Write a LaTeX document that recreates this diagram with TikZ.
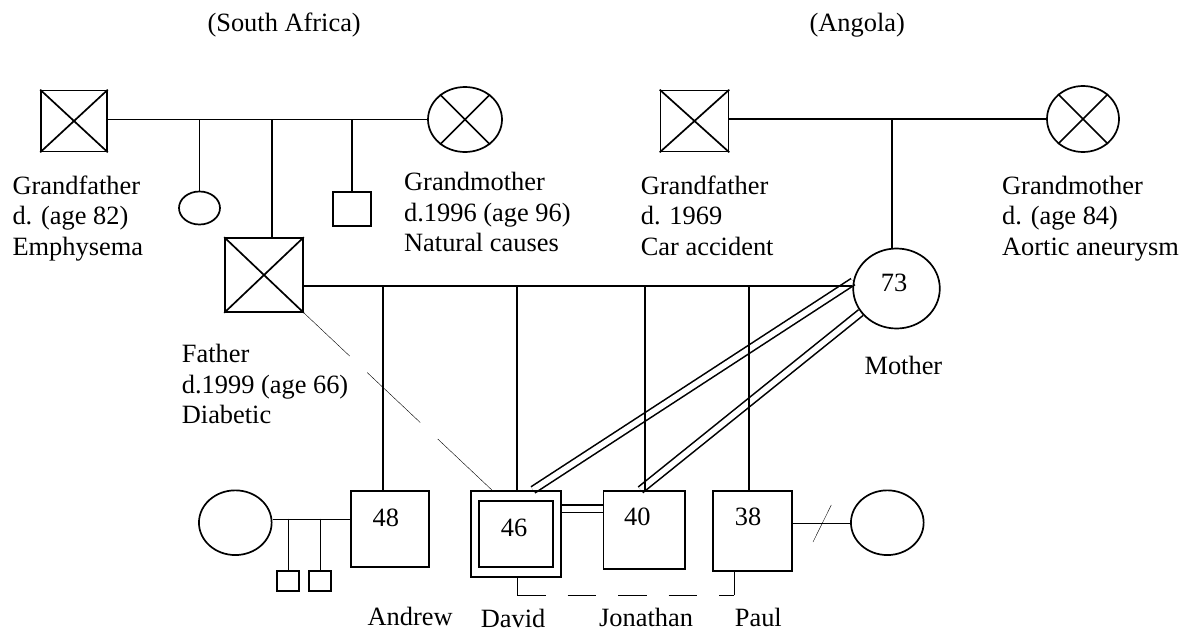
\documentclass[tikz,border=0pt]{standalone}
\usepackage{fontspec}
\setmainfont{Liberation Serif}
\usetikzlibrary{shapes.geometric}
\pgfdeclarelayer{bg}
\pgfsetlayers{bg,main}
\newcommand\plines[1]{\begin{tabular}[t]{@{}l@{}}#1\end{tabular}}
\begin{document}
\begin{tikzpicture}[x=1pt,y=-1pt,line width=1.7pt,
  txt/.style={font=\fontsize{26.4}{30.5}\selectfont,inner sep=0pt,anchor=base west},
  sq/.style={draw,rectangle,inner sep=0pt,line width=1.7pt},
  el/.style={draw,ellipse,inner sep=0pt,line width=1.7pt},
  dbl/.style={line width=1.6pt,double,double distance=5.6pt}]
\useasboundingbox (0,0) rectangle (1187,632);

% titles
\node[txt] (tsa) at (206.7,31) {(South Africa)};
\node[txt] (tan) at (808.7,31) {(Angola)};

% paternal grandparents
\node[sq,minimum width=66pt,minimum height=61pt] (gf1) at (74,121) {};
\node[el,minimum width=74pt,minimum height=65pt] (gm1) at (465,119.5) {};
\draw (gf1.north west) -- (gf1.south east) (gf1.north east) -- (gf1.south west);
\draw (gm1.45) -- (gm1.225) (gm1.135) -- (gm1.315);
\draw (gf1.east |- gm1.west) -- (gm1.west);

\node[el,minimum width=41pt,minimum height=33pt] (dau) at (199.5,208) {};
\node[sq,minimum width=38pt,minimum height=34pt] (son) at (352,209) {};
\node[sq,minimum width=78pt,minimum height=74pt] (father) at (264,275) {};
\draw (father.north west) -- (father.south east) (father.north east) -- (father.south west);
\coordinate (fd) at ([xshift=8pt]father.north);
\draw (dau.north |- gm1.west) -- (dau.north);
\draw (son.north |- gm1.west) -- (son.north);
\draw (fd |- gm1.west) -- (fd);

\node[txt] (lgf1) at (11.7,194.3) {\plines{Grandfather\\d. (age 82)\\Emphysema}};
\node[txt] (lgm1) at (403.3,190.5) {\plines{Grandmother\\d.1996 (age 96)\\Natural causes}};

% maternal grandparents
\node[sq,minimum width=68pt,minimum height=61pt] (gf2) at (694.5,121) {};
\node[el,minimum width=72pt,minimum height=66pt] (gm2) at (1083,119) {};
\draw (gf2.north west) -- (gf2.south east) (gf2.north east) -- (gf2.south west);
\draw (gm2.45) -- (gm2.225) (gm2.135) -- (gm2.315);
\draw (gf2.east |- gm2.west) -- (gm2.west);

\node[txt] (lgf2) at (640,194.3) {\plines{Grandfather\\d. 1969\\Car accident}};
\node[txt] (lgm2) at (1001.3,194.3) {\plines{Grandmother\\d. (age 84)\\Aortic aneurysm}};

% mother
\node[el,minimum width=86.6pt,minimum height=80pt] (mother) at (896.5,288.5) {};
\node[txt] (n73) at (880,291.7) {73};
\coordinate (md) at ([xshift=-4.5pt]mother.north);
\draw (md |- gm2.west) -- (md);
\node[txt] (lmo) at (863.7,374.3) {Mother};
\node[txt] (lfa) at (181,362.7) {\plines{Father\\d.1999 (age 66)\\Diabetic}};

% children
\node[sq,minimum width=78pt,minimum height=76pt] (andrew) at (390,528.8) {};
\node[sq,minimum width=90pt,minimum height=86pt] (david) at (516,533.7) {};
\node[sq,minimum width=74pt,minimum height=66pt] (davidin) at (516.2,533.8) {};
\node[sq,minimum width=81.7pt,minimum height=78pt] (jonathan) at (644.2,529.7) {};
\node[sq,minimum width=78.4pt,minimum height=80.3pt] (paul) at (752.5,530.8) {};
\node[txt] (n48) at (371.7,526) {48};
\node[txt] (n46) at (500,536) {46};
\node[txt] (n40) at (623.3,525.3) {40};
\node[txt] (n38) at (734,525.3) {38};

\node[txt] (lan) at (366.7,625.5) {Andrew};
\node[txt] (lda) at (480,627.5) {David};
\node[txt] (ljo) at (598.3,626.5) {Jonathan};
\node[txt] (lpa) at (734,626.5) {Paul};

% sibship line
\coordinate (sib) at (0,286);
\draw (father.east |- sib) -- (mother.west |- sib);
\coordinate (ad) at ([xshift=-7pt]andrew.north);
\coordinate (dvd) at ([xshift=1pt]david.north);
\coordinate (jd) at ([xshift=0.8pt]jonathan.north);
\coordinate (pd) at ([xshift=-3.5pt]paul.north);
\draw (ad |- sib) -- (ad);
\draw (dvd |- sib) -- (dvd);
\draw (jd |- sib) -- (jd);
\draw (pd |- sib) -- (pd);

% double lines (behind)
\coordinate (dtop) at ([xshift=17pt]david.north);
\coordinate (jtop) at ([xshift=-3.7pt]jonathan.north);
\coordinate (dj) at (0,508.8);
\begin{pgfonlayer}{bg}
\draw[dbl] (mother.171) -- (dtop);
\draw[dbl] (mother.214) -- (jtop);
\draw[dbl] (david.east |- dj) -- (jonathan.west |- dj);
\end{pgfonlayer}

% father to David dashed
\coordinate (fdv) at ([xshift=-24.3pt]david.north);
\draw[dash pattern=on 63pt off 24pt on 73pt off 24pt on 90pt] (father.south east) -- (fdv);

% David - Paul dashed link
\coordinate (db) at ([xshift=1pt]david.south);
\coordinate (pb) at ([xshift=-18.5pt]paul.south);
\coordinate (dbot) at (517,595.3);
\coordinate (pbot) at (734,595.3);
\draw (db) -- (dbot);
\draw[dash pattern=on 28.5pt off 22pt] (dbot) -- (pbot);
\draw (pbot) -- (pb);

% Andrew's family
\node[el,minimum width=72.7pt,minimum height=64.7pt] (spa) at (235.3,522.7) {};
\node[sq,minimum width=22pt,minimum height=20pt] (gc1) at (288,581) {};
\node[sq,minimum width=22pt,minimum height=20pt] (gc2) at (320,581) {};
\coordinate (al) at (0,518.7);
\draw (spa.east |- al) -- (andrew.west |- al);
\draw (gc1.north |- al) -- (gc1.north);
\draw (gc2.north |- al) -- (gc2.north);

% Paul's partner
\node[el,minimum width=72.7pt,minimum height=64.7pt] (spp) at (887.3,522.7) {};
\draw (paul.east |- spp.west) -- (spp.west);
\coordinate (sl1) at (813,542);
\coordinate (sl2) at (831.3,505);
\draw (sl1) -- (sl2);
\end{tikzpicture}
\end{document}
